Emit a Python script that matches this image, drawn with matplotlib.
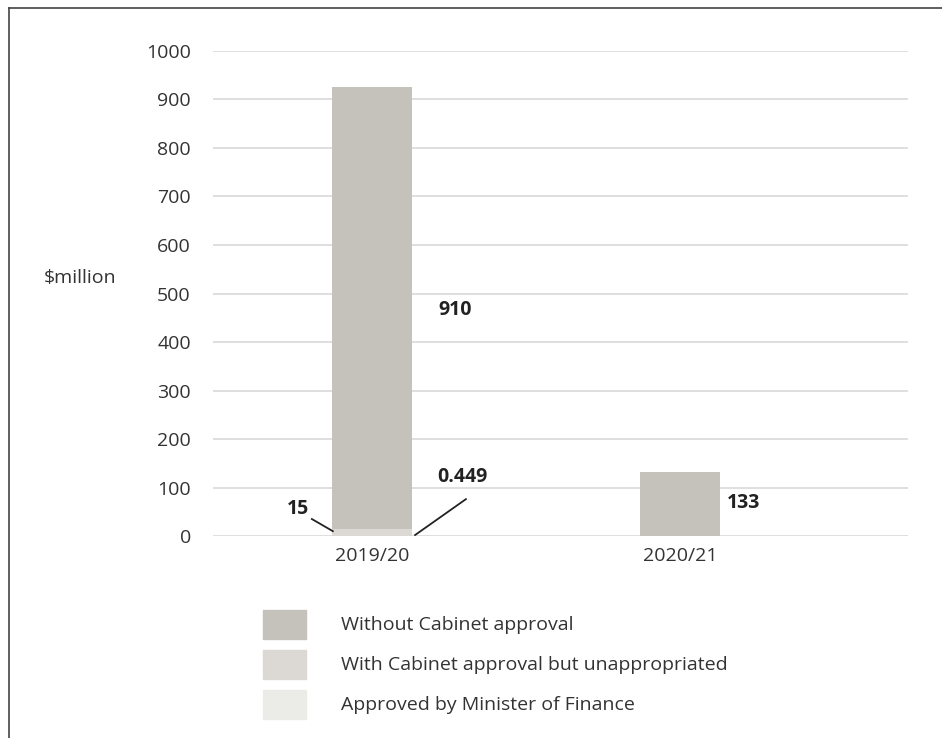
import matplotlib
matplotlib.use("Agg")
import matplotlib.pyplot as plt
from matplotlib.patches import Rectangle
from matplotlib.lines import Line2D

plt.rcParams['font.family'] = ['Open Sans', 'DejaVu Sans']

years = ["2019/20", "2020/21"]
without_cabinet = [910, 133]
with_cabinet = [15, 0]
minister = [0.449, 0]
series_labels = ["Without Cabinet approval",
                 "With Cabinet approval but unappropriated",
                 "Approved by Minister of Finance"]
colors = ["#c5c2bb", "#dcd9d4", "#ebebe7"]
yticks = list(range(0, 1001, 100))

FS = 14

fig = plt.figure(figsize=(9.42, 7.38), dpi=100)
ax = fig.add_axes([0.2261, 0.2737, 0.7378, 0.6572])

x = list(range(len(years)))
w = 0.26
ax.bar(x, minister, width=w, color=colors[2], zorder=3)
ax.bar(x, with_cabinet, width=w, bottom=minister, color=colors[1], zorder=3)
base = [a + b for a, b in zip(minister, with_cabinet)]
ax.bar(x, without_cabinet, width=w, bottom=base, color=colors[0], zorder=3)

ax.set_ylim(0, 1000)
ax.set_xlim(-0.516, 1.74)
ax.set_yticks(yticks)
ax.set_xticks(x)
ax.set_xticklabels(years)
ax.yaxis.grid(True, color="#d6d6d6", linewidth=1.1)
ax.set_axisbelow(True)
for s in ax.spines.values():
    s.set_visible(False)
ax.tick_params(axis="both", length=0, labelsize=FS, colors="#333333")
ax.tick_params(axis="y", pad=16)
ax.tick_params(axis="x", pad=8)

# value labels
lab = dict(fontsize=FS, fontweight="bold", color="#222222")
ax.text(0.214, 466, f"{without_cabinet[0]:g}", ha="left", va="center", **lab)
ax.text(-0.24, 56, f"{with_cabinet[0]:g}", ha="center", va="center", **lab)
ax.plot([-0.195, -0.127], [35, 10], color="#222222", lw=1.3, zorder=4)
ax.text(0.295, 122, f"{minister[0]:g}", ha="center", va="center", **lab)
ax.plot([0.305, 0.14], [76, 2], color="#222222", lw=1.3, zorder=4)
ax.text(1.153, 68, f"{without_cabinet[1]:g}", ha="left", va="center", **lab)

fig.text(116 / 942, 1 - 278 / 738, "$million", ha="right", va="center",
         fontsize=FS, color="#333333")

# legend
W, H = 942, 738
for i, (name, c) in enumerate(zip(series_labels, colors)):
    top = 610 + 40 * i
    fig.add_artist(Rectangle((263 / W, 1 - (top + 29) / H), 43 / W, 29 / H,
                             transform=fig.transFigure, color=c))
    fig.text(341 / W, 1 - (top + 15) / H, name, ha="left", va="center",
             fontsize=FS, color="#333333")

# frame (top and left only)
fig.add_artist(Line2D([9 / W, 1], [1 - 8 / H, 1 - 8 / H], transform=fig.transFigure,
                      color="#444444", lw=1.2))
fig.add_artist(Line2D([9 / W, 9 / W], [0, 1 - 8 / H], transform=fig.transFigure,
                      color="#444444", lw=1.2))

fig.savefig("out.png", dpi=100)
